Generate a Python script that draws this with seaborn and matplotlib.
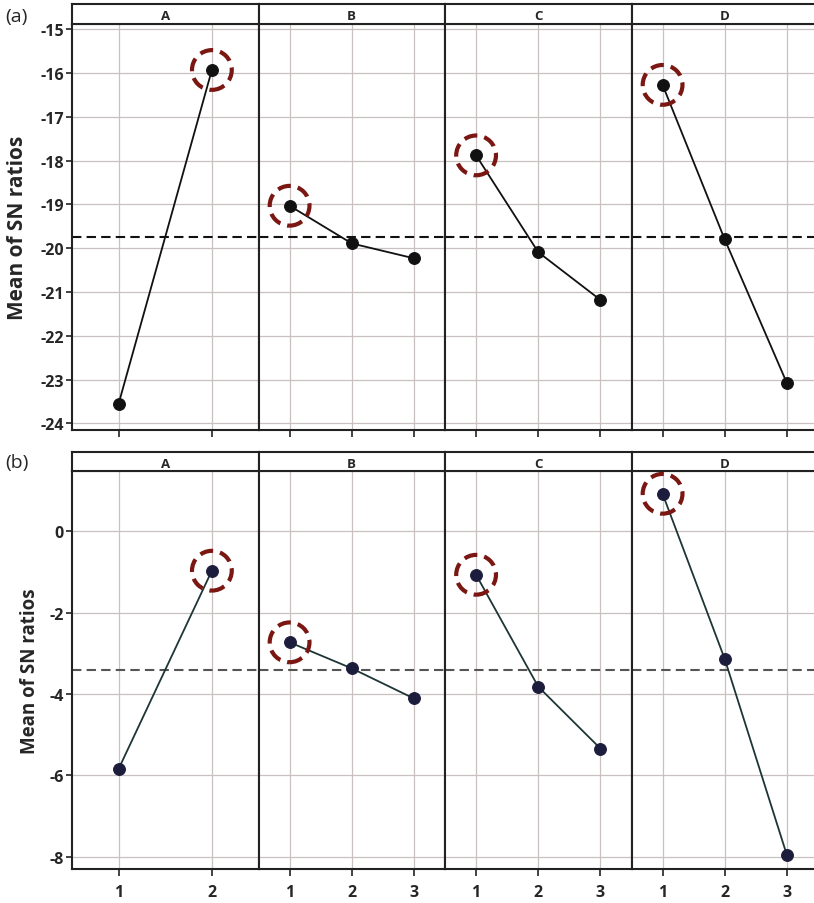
import numpy as np
import pandas as pd
import matplotlib
matplotlib.use("Agg")
import matplotlib.pyplot as plt
import seaborn as sns

# ---------------- data ----------------
factors = ["A", "B", "C", "D"]
level_labels = ["1", "2", "3"]

a_A = [-23.55, -15.93]
a_B = [-19.03, -19.89, -20.23]
a_C = [-17.88, -20.09, -21.18]
a_D = [-16.27, -19.80, -23.08]

b_A = [-5.84, -0.97]
b_B = [-2.73, -3.37, -4.11]
b_C = [-1.07, -3.82, -5.34]
b_D = [0.92, -3.14, -7.96]

a_ticks = [-15, -16, -17, -18, -19, -20, -21, -22, -23, -24]
b_ticks = [0, -2, -4, -6, -8]

panel_names = ["(a)", "(b)"]
ylabel = "Mean of SN ratios"


def to_long(series_list):
    rows = []
    for f, vals in zip(factors, series_list):
        for i, v in enumerate(vals):
            rows.append({"factor": f, "level": i + 1, "sn": v})
    return pd.DataFrame(rows)


df_a = to_long([a_A, a_B, a_C, a_D])
df_b = to_long([b_A, b_B, b_C, b_D])

# ---------------- style ----------------
sns.set_theme(style="white")
plt.rcParams["font.family"] = ["Open Sans", "DejaVu Sans"]

W, H = 814, 904
fig = plt.figure(figsize=(W / 100, H / 100), dpi=100)

left_px = 72
panel_w_px = 186.5

rows_cfg = [
    dict(df=df_a, ticks=a_ticks, ylim=(-24.15, -14.88), plot_top=25, plot_bot=431,
         head_top=5, line_color="#111111", mk_color="#111111", mean_color="#111111",
         ylab_size=15, ylab_weight="bold", ylab_x=18 / W, name_y=1 - 17 / H,
         show_xlabels=False),
    dict(df=df_b, ticks=b_ticks, ylim=(-8.30, 1.48), plot_top=472, plot_bot=870,
         head_top=453, line_color="#1e3535", mk_color="#1c1c3c", mean_color="#555555",
         ylab_size=13.5, ylab_weight="bold", ylab_x=30 / W, name_y=1 - 463 / H,
         show_xlabels=True),
]

for r, cfg in enumerate(rows_cfg):
    df = cfg["df"]
    grand_mean = df[df["factor"] == "A"]["sn"].mean()
    for j, f in enumerate(factors):
        sub = df[df["factor"] == f]
        n = len(sub)
        x0 = (left_px + j * panel_w_px) / W
        w = panel_w_px / W
        y0 = 1 - cfg["plot_bot"] / H
        h = (cfg["plot_bot"] - cfg["plot_top"]) / H
        ax = fig.add_axes([x0, y0, w, h])

        ax.set_axisbelow(True)
        ax.grid(True, color="#c9c1c0", lw=0.9)
        ax.axhline(grand_mean, color=cfg["mean_color"], lw=1.5, ls=(0, (4.5, 2.5)), zorder=2)

        sns.lineplot(data=sub, x="level", y="sn", ax=ax, color=cfg["line_color"],
                     lw=1.3, marker="o", markersize=8.5,
                     markerfacecolor=cfg["mk_color"], markeredgecolor=cfg["mk_color"],
                     estimator=None, zorder=3)

        # highlight optimal level
        best = sub.loc[sub["sn"].idxmax()]
        ax.scatter([best["level"]], [best["sn"]], s=820, facecolors="none",
                   edgecolors="#7a1712", linewidths=3.0, linestyles=(0, (3.2, 1.7)),
                   zorder=4)

        ax.set_xlim(0.5, n + 0.5)
        ax.set_ylim(*cfg["ylim"])
        ax.set_xticks(range(1, n + 1))
        ax.set_yticks(cfg["ticks"])
        ax.set_xlabel("")
        ax.set_ylabel("")
        for s in ax.spines.values():
            s.set_color("#222222")
            s.set_linewidth(1.5)

        ax.tick_params(axis="x", direction="out", length=5, width=1.2, color="#222222",
                       bottom=True, pad=6)
        if cfg["show_xlabels"]:
            ax.set_xticklabels(level_labels[:n], fontsize=11.5, fontweight="bold")
        else:
            ax.set_xticklabels([])
        if j == 0:
            ax.tick_params(axis="y", direction="out", length=4, width=1.2, color="#222222",
                           left=True, pad=2)
            ax.set_yticklabels([str(t) for t in cfg["ticks"]], fontsize=11.5, fontweight="bold")
        else:
            ax.tick_params(axis="y", left=False, labelleft=False)

        # header strip
        hy0 = 1 - cfg["plot_top"] / H
        hh = (cfg["plot_top"] - cfg["head_top"]) / H
        axh = fig.add_axes([x0, hy0, w, hh])
        axh.set_xticks([])
        axh.set_yticks([])
        axh.set_facecolor("white")
        for s in axh.spines.values():
            s.set_color("#222222")
            s.set_linewidth(1.5)
        axh.text(0.5, 0.42, f, ha="center", va="center", fontsize=9.5,
                 fontweight="bold", transform=axh.transAxes)

    fig.text(cfg["ylab_x"], 1 - ((cfg["plot_top"] + cfg["plot_bot"]) / 2) / H, ylabel,
             rotation=90, ha="center", va="center", fontsize=cfg["ylab_size"],
             fontweight=cfg["ylab_weight"])
    fig.text(5 / W, cfg["name_y"], panel_names[r], ha="left", va="center", fontsize=14)

fig.savefig("out.png", dpi=100)
